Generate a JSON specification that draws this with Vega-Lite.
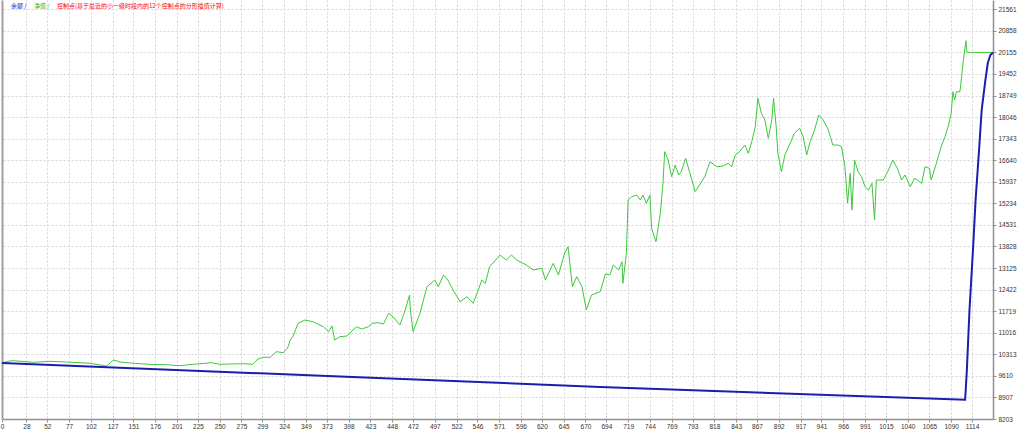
{
  "$schema": "https://vega.github.io/schema/vega-lite/v6.json",
  "width": 991,
  "height": 419,
  "autosize": {"type": "none"},
  "padding": {"left": 2, "top": 0, "right": 31, "bottom": 11},
  "background": "white",
  "config": {
    "view": {"stroke": null},
    "font": "Liberation Sans",
    "axis": {"labelFont": "Liberation Sans", "labelFontSize": 6.5, "labelColor": "#333333", "title": null, "format": "d"}
  },
  "datasets": {
    "d": [
      {"s": "净值", "i": 0, "v": 10039}, {"s": "净值", "i": 9, "v": 10094}, {"s": "净值", "i": 13, "v": 10104},
      {"s": "净值", "i": 36, "v": 10052}, {"s": "净值", "i": 55, "v": 10084}, {"s": "净值", "i": 74, "v": 10061},
      {"s": "净值", "i": 101, "v": 10019}, {"s": "净值", "i": 120, "v": 9931}, {"s": "净值", "i": 128, "v": 10127},
      {"s": "净值", "i": 136, "v": 10061}, {"s": "净值", "i": 151, "v": 10019}, {"s": "净值", "i": 170, "v": 9986},
      {"s": "净值", "i": 189, "v": 9973}, {"s": "净值", "i": 204, "v": 9941}, {"s": "净值", "i": 219, "v": 9986},
      {"s": "净值", "i": 241, "v": 10039}, {"s": "净值", "i": 250, "v": 9986}, {"s": "净值", "i": 277, "v": 10006},
      {"s": "净值", "i": 288, "v": 9986}, {"s": "净值", "i": 294, "v": 10159}, {"s": "净值", "i": 300, "v": 10215},
      {"s": "净值", "i": 308, "v": 10215}, {"s": "净值", "i": 315, "v": 10397}, {"s": "净值", "i": 323, "v": 10365},
      {"s": "净值", "i": 328, "v": 10518}, {"s": "净值", "i": 331, "v": 10779}, {"s": "净值", "i": 334, "v": 10886},
      {"s": "净值", "i": 340, "v": 11323}, {"s": "净值", "i": 348, "v": 11431}, {"s": "净值", "i": 357, "v": 11375},
      {"s": "净值", "i": 369, "v": 11212}, {"s": "净值", "i": 375, "v": 11049}, {"s": "净值", "i": 379, "v": 11235},
      {"s": "净值", "i": 382, "v": 10779}, {"s": "净值", "i": 388, "v": 10886}, {"s": "净值", "i": 396, "v": 10909},
      {"s": "净值", "i": 407, "v": 11212}, {"s": "净值", "i": 413, "v": 11137}, {"s": "净值", "i": 421, "v": 11212},
      {"s": "净值", "i": 425, "v": 11323}, {"s": "净值", "i": 432, "v": 11343}, {"s": "净值", "i": 438, "v": 11300},
      {"s": "净值", "i": 444, "v": 11649}, {"s": "净值", "i": 449, "v": 11538}, {"s": "净值", "i": 457, "v": 11268},
      {"s": "净值", "i": 463, "v": 11757}, {"s": "净值", "i": 468, "v": 12246}, {"s": "净值", "i": 469, "v": 11757},
      {"s": "净值", "i": 472, "v": 11049}, {"s": "净值", "i": 480, "v": 11649}, {"s": "净值", "i": 488, "v": 12516},
      {"s": "净值", "i": 497, "v": 12735}, {"s": "净值", "i": 501, "v": 12516}, {"s": "净值", "i": 507, "v": 12898},
      {"s": "净值", "i": 512, "v": 12735}, {"s": "净值", "i": 518, "v": 12409}, {"s": "净值", "i": 526, "v": 12028},
      {"s": "净值", "i": 534, "v": 12190}, {"s": "净值", "i": 541, "v": 11975}, {"s": "净值", "i": 547, "v": 12409},
      {"s": "净值", "i": 551, "v": 12735}, {"s": "净值", "i": 555, "v": 12627}, {"s": "净值", "i": 560, "v": 13168},
      {"s": "净值", "i": 572, "v": 13550}, {"s": "净值", "i": 579, "v": 13387}, {"s": "净值", "i": 585, "v": 13550},
      {"s": "净值", "i": 591, "v": 13387}, {"s": "净值", "i": 602, "v": 13224}, {"s": "净值", "i": 610, "v": 13061},
      {"s": "净值", "i": 620, "v": 13116}, {"s": "净值", "i": 624, "v": 12735}, {"s": "净值", "i": 633, "v": 13279},
      {"s": "净值", "i": 639, "v": 12898}, {"s": "净值", "i": 646, "v": 13605}, {"s": "净值", "i": 650, "v": 13821},
      {"s": "净值", "i": 655, "v": 12516}, {"s": "净值", "i": 660, "v": 12842}, {"s": "净值", "i": 666, "v": 12516},
      {"s": "净值", "i": 671, "v": 11757}, {"s": "净值", "i": 677, "v": 12246}, {"s": "净值", "i": 687, "v": 12353},
      {"s": "净值", "i": 693, "v": 12931}, {"s": "净值", "i": 698, "v": 12898}, {"s": "净值", "i": 702, "v": 13224},
      {"s": "净值", "i": 708, "v": 13061}, {"s": "净值", "i": 712, "v": 13332}, {"s": "净值", "i": 713, "v": 12627},
      {"s": "净值", "i": 717, "v": 13605}, {"s": "净值", "i": 719, "v": 15343}, {"s": "净值", "i": 723, "v": 15451},
      {"s": "净值", "i": 729, "v": 15506}, {"s": "净值", "i": 733, "v": 15343}, {"s": "净值", "i": 736, "v": 15506},
      {"s": "净值", "i": 740, "v": 15235}, {"s": "净值", "i": 744, "v": 15506}, {"s": "净值", "i": 746, "v": 14420},
      {"s": "净值", "i": 751, "v": 13984}, {"s": "净值", "i": 756, "v": 14910}, {"s": "净值", "i": 759, "v": 15888},
      {"s": "净值", "i": 761, "v": 16918}, {"s": "净值", "i": 765, "v": 16647}, {"s": "净值", "i": 769, "v": 16103},
      {"s": "净值", "i": 773, "v": 16484}, {"s": "净值", "i": 777, "v": 16158}, {"s": "净值", "i": 780, "v": 16266},
      {"s": "净值", "i": 785, "v": 16703}, {"s": "净值", "i": 790, "v": 16214}, {"s": "净值", "i": 796, "v": 15614},
      {"s": "净值", "i": 801, "v": 15832}, {"s": "净值", "i": 807, "v": 16103}, {"s": "净值", "i": 813, "v": 16592},
      {"s": "净值", "i": 821, "v": 16429}, {"s": "净值", "i": 828, "v": 16452}, {"s": "净值", "i": 834, "v": 16540},
      {"s": "净值", "i": 838, "v": 16429}, {"s": "净值", "i": 842, "v": 16810}, {"s": "净值", "i": 847, "v": 16918},
      {"s": "净值", "i": 853, "v": 17136}, {"s": "净值", "i": 857, "v": 16866}, {"s": "净值", "i": 861, "v": 17244},
      {"s": "净值", "i": 865, "v": 17733}, {"s": "净值", "i": 868, "v": 18659}, {"s": "净值", "i": 872, "v": 18170},
      {"s": "净值", "i": 876, "v": 17952}, {"s": "净值", "i": 880, "v": 17355}, {"s": "净值", "i": 884, "v": 17952},
      {"s": "净值", "i": 886, "v": 18659}, {"s": "净值", "i": 889, "v": 17733}, {"s": "净值", "i": 891, "v": 16866},
      {"s": "净值", "i": 895, "v": 16266}, {"s": "净值", "i": 899, "v": 16810}, {"s": "净值", "i": 905, "v": 17192},
      {"s": "净值", "i": 910, "v": 17518}, {"s": "净值", "i": 916, "v": 17681}, {"s": "净值", "i": 920, "v": 17407},
      {"s": "净值", "i": 924, "v": 16810}, {"s": "净值", "i": 928, "v": 17244}, {"s": "净值", "i": 933, "v": 17625},
      {"s": "净值", "i": 938, "v": 18115}, {"s": "净值", "i": 943, "v": 17952}, {"s": "净值", "i": 949, "v": 17625},
      {"s": "净值", "i": 954, "v": 17136}, {"s": "净值", "i": 960, "v": 17136}, {"s": "净值", "i": 964, "v": 17081},
      {"s": "净值", "i": 968, "v": 16429}, {"s": "净值", "i": 971, "v": 15235}, {"s": "净值", "i": 974, "v": 16214},
      {"s": "净值", "i": 976, "v": 15017}, {"s": "净值", "i": 979, "v": 16647}, {"s": "净值", "i": 983, "v": 16266},
      {"s": "净值", "i": 987, "v": 16103}, {"s": "净值", "i": 991, "v": 15777}, {"s": "净值", "i": 995, "v": 15669},
      {"s": "净值", "i": 999, "v": 15888}, {"s": "净值", "i": 1002, "v": 14691}, {"s": "净值", "i": 1004, "v": 15995},
      {"s": "净值", "i": 1012, "v": 15995}, {"s": "净值", "i": 1018, "v": 16321}, {"s": "净值", "i": 1023, "v": 16647},
      {"s": "净值", "i": 1029, "v": 16321}, {"s": "净值", "i": 1033, "v": 15995}, {"s": "净值", "i": 1037, "v": 16158},
      {"s": "净值", "i": 1043, "v": 15777}, {"s": "净值", "i": 1048, "v": 16051}, {"s": "净值", "i": 1056, "v": 15888},
      {"s": "净值", "i": 1060, "v": 16429}, {"s": "净值", "i": 1065, "v": 16377}, {"s": "净值", "i": 1067, "v": 15995},
      {"s": "净值", "i": 1073, "v": 16540}, {"s": "净值", "i": 1079, "v": 17136}, {"s": "净值", "i": 1083, "v": 17407},
      {"s": "净值", "i": 1087, "v": 17789}, {"s": "净值", "i": 1090, "v": 18170}, {"s": "净值", "i": 1092, "v": 18874},
      {"s": "净值", "i": 1094, "v": 18604}, {"s": "净值", "i": 1096, "v": 18874}, {"s": "净值", "i": 1100, "v": 18874},
      {"s": "净值", "i": 1102, "v": 19363}, {"s": "净值", "i": 1104, "v": 19908}, {"s": "净值", "i": 1107, "v": 20537},
      {"s": "净值", "i": 1108, "v": 20155}, {"s": "净值", "i": 1138, "v": 20155},
      {"s": "余额", "i": 0, "v": 10030}, {"s": "余额", "i": 388, "v": 9589}, {"s": "余额", "i": 687, "v": 9247},
      {"s": "余额", "i": 1106, "v": 8830}, {"s": "余额", "i": 1108, "v": 9801}, {"s": "余额", "i": 1111, "v": 11757},
      {"s": "余额", "i": 1115, "v": 13714}, {"s": "余额", "i": 1118, "v": 15344}, {"s": "余额", "i": 1122, "v": 16974},
      {"s": "余额", "i": 1125, "v": 18278}, {"s": "余额", "i": 1129, "v": 19191}, {"s": "余额", "i": 1132, "v": 19810},
      {"s": "余额", "i": 1135, "v": 20071}, {"s": "余额", "i": 1138, "v": 20155}
    ]
  },
  "data": {"name": "d"},
  "encoding": {
    "x": {
      "field": "i", "type": "quantitative",
      "scale": {"domain": [0, 1138], "nice": false, "zero": false},
      "axis": {
        "orient": "bottom",
        "values": [0,28,52,77,102,127,151,176,201,225,250,275,299,324,349,373,398,423,448,472,497,522,546,571,596,620,645,670,694,719,744,769,793,818,843,867,892,917,941,966,991,1015,1040,1065,1090,1114],
        "labelOverlap": false, "labelBound": false, "labelFlush": false,
        "tickSize": 3, "tickColor": "#909090", "labelPadding": 1,
        "domainColor": "#909090", "domainWidth": 1.5,
        "grid": true, "gridDash": [2, 2], "gridColor": "#d4d4d4"
      }
    },
    "color": {
      "field": "s", "type": "nominal",
      "scale": {
        "domain": ["余额", "净值", "控制点(基于最近的小一级时段内的12个控制点的分形插值计算)"],
        "range": ["#1c1cb0", "#3cc83c", "#ff0000"]
      },
      "legend": {
        "title": null, "orient": "top-left", "direction": "horizontal", "offset": 3, "padding": 0,
        "symbolType": "circle", "symbolSize": 0.01, "symbolStrokeWidth": 0, "symbolOpacity": 0,
        "symbolOffset": 0, "labelOffset": 0,
        "gridAlign": "none", "columnPadding": 1,
        "labelFont": "Noto Sans CJK SC", "labelFontSize": 6, "labelLimit": 500,
        "labelExpr": "datum.value == '余额' || datum.value == '净值' ? datum.label + ' /' : datum.label",
        "labelColor": {"expr": "datum.value == '余额' ? '#2020c0' : datum.value == '净值' ? '#20b020' : '#ff0000'"}
      }
    }
  },
  "layer": [
    {
      "transform": [{"filter": "datum.s == '净值'"}],
      "mark": {"type": "line", "strokeWidth": 1, "interpolate": "linear"},
      "encoding": {
        "y": {
          "field": "v", "type": "quantitative",
          "scale": {"domain": [8203, 21864], "nice": false, "zero": false},
          "axis": {"orient": "left", "labels": false, "ticks": false, "grid": false, "domainColor": "#a0a0a0", "domainWidth": 2}
        }
      }
    },
    {
      "transform": [{"filter": "datum.s == '余额'"}],
      "mark": {"type": "line", "strokeWidth": 2, "interpolate": "linear"},
      "encoding": {
        "y": {
          "field": "v", "type": "quantitative",
          "scale": {"domain": [8203, 21864], "nice": false, "zero": false},
          "axis": {
            "orient": "right",
            "values": [8203,8907,9610,10313,11016,11719,12422,13125,13828,14531,15234,15937,16640,17343,18046,18749,19452,20155,20858,21561],
            "labelAlign": "left", "labelPadding": 2, "labelOverlap": false,
            "tickSize": 3, "tickColor": "#909090",
            "domainColor": "#909090", "domainWidth": 1.5,
            "grid": true, "gridDash": [2, 2], "gridColor": "#d4d4d4"
          }
        }
      }
    }
  ],
  "resolve": {"axis": {"y": "independent"}}
}
